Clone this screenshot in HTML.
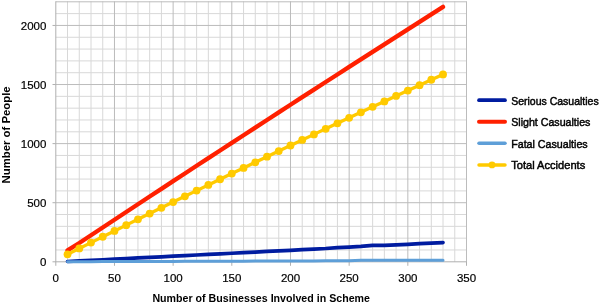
<!DOCTYPE html>
<html><head><meta charset="utf-8"><style>html,body{margin:0;padding:0;background:#fff;width:600px;height:303px;overflow:hidden}svg{display:block;filter:blur(0.35px)}</style></head>
<body>
<svg width="600" height="303" viewBox="0 0 600 303">
<rect width="600" height="303" fill="#fff"/>
<path d="M67.53,1.30V261.80 M79.27,1.30V261.80 M91.00,1.30V261.80 M102.74,1.30V261.80 M126.21,1.30V261.80 M137.94,1.30V261.80 M149.67,1.30V261.80 M161.41,1.30V261.80 M184.88,1.30V261.80 M196.61,1.30V261.80 M208.35,1.30V261.80 M220.08,1.30V261.80 M243.55,1.30V261.80 M255.28,1.30V261.80 M267.02,1.30V261.80 M278.75,1.30V261.80 M302.22,1.30V261.80 M313.95,1.30V261.80 M325.69,1.30V261.80 M337.42,1.30V261.80 M360.89,1.30V261.80 M372.63,1.30V261.80 M384.36,1.30V261.80 M396.09,1.30V261.80 M419.56,1.30V261.80 M431.30,1.30V261.80 M443.03,1.30V261.80 M454.77,1.30V261.80 M55.80,249.98H466.50 M55.80,238.16H466.50 M55.80,226.35H466.50 M55.80,214.53H466.50 M55.80,190.89H466.50 M55.80,179.07H466.50 M55.80,167.25H466.50 M55.80,155.44H466.50 M55.80,131.80H466.50 M55.80,119.98H466.50 M55.80,108.16H466.50 M55.80,96.35H466.50 M55.80,72.71H466.50 M55.80,60.89H466.50 M55.80,49.07H466.50 M55.80,37.25H466.50 M55.80,13.62H466.50" stroke="#d8d8d8" stroke-width="1" fill="none"/>
<path d="M114.47,1.30V261.80 M173.14,1.30V261.80 M231.81,1.30V261.80 M290.49,1.30V261.80 M349.16,1.30V261.80 M407.83,1.30V261.80 M466.50,1.30V261.80 M55.80,202.71H466.50 M55.80,143.62H466.50 M55.80,84.53H466.50 M55.80,25.44H466.50 M55.80,1.80H466.50" stroke="#bcbcbc" stroke-width="1" fill="none"/>
<path d="M55.80,1.30V261.80 M55.30,261.80H467.00 M52.50,261.80H55.80 M52.50,202.71H55.80 M52.50,143.62H55.80 M52.50,84.53H55.80 M52.50,25.44H55.80 M55.80,261.80V265.80 M114.47,261.80V265.80 M173.14,261.80V265.80 M231.81,261.80V265.80 M290.49,261.80V265.80 M349.16,261.80V265.80 M407.83,261.80V265.80 M466.50,261.80V265.80" stroke="#b0b0b0" stroke-width="1" fill="none"/>
<g font-family="Liberation Sans, sans-serif" font-size="11.5" fill="#000" stroke="#000" stroke-width="0.2">
<text x="46.4" y="265.90" text-anchor="end">0</text>
<text x="46.4" y="206.81" text-anchor="end">500</text>
<text x="46.4" y="147.72" text-anchor="end">1000</text>
<text x="46.4" y="88.63" text-anchor="end">1500</text>
<text x="46.4" y="29.54" text-anchor="end">2000</text>
<text x="55.80" y="281.6" text-anchor="middle">0</text>
<text x="114.47" y="281.6" text-anchor="middle">50</text>
<text x="173.14" y="281.6" text-anchor="middle">100</text>
<text x="231.81" y="281.6" text-anchor="middle">150</text>
<text x="290.49" y="281.6" text-anchor="middle">200</text>
<text x="349.16" y="281.6" text-anchor="middle">250</text>
<text x="407.83" y="281.6" text-anchor="middle">300</text>
<text x="466.50" y="281.6" text-anchor="middle">350</text>
</g>
<text x="261.2" y="301.6" text-anchor="middle" font-family="Liberation Sans, sans-serif" font-size="11" font-weight="bold" textLength="217.5" lengthAdjust="spacingAndGlyphs">Number of Businesses Involved in Scheme</text>
<text transform="translate(10.3,134.9) rotate(-90)" x="0" y="0" text-anchor="middle" font-family="Liberation Sans, sans-serif" font-size="11" font-weight="bold" textLength="97" lengthAdjust="spacingAndGlyphs">Number of People</text>
<path d="M67.53,261.50 L79.27,260.91 L91.00,260.32 L102.74,259.73 L114.47,259.14 L126.21,258.55 L137.94,257.96 L149.67,257.37 L161.41,256.78 L173.14,256.19 L184.88,255.60 L196.61,255.00 L208.35,254.41 L220.08,253.82 L231.81,253.23 L243.55,252.64 L255.28,252.05 L267.02,251.46 L278.75,250.87 L290.49,250.28 L302.22,249.69 L313.95,249.10 L325.69,248.50 L337.42,247.62 L349.16,247.03 L360.89,246.32 L372.63,245.31 L384.36,245.37 L396.09,244.90 L407.83,244.31 L419.56,243.72 L431.30,243.13 L443.03,242.54" stroke="#001ca0" stroke-width="3.7" fill="none" stroke-linecap="round" stroke-linejoin="round"/>
<path d="M67.53,250.34 L79.27,243.01 L91.00,235.24 L102.74,227.49 L114.47,219.75 L126.21,212.01 L137.94,204.29 L149.67,196.57 L161.41,188.87 L173.14,181.17 L184.88,173.49 L196.61,165.81 L208.35,158.15 L220.08,150.49 L231.81,142.85 L243.55,135.21 L255.28,127.58 L267.02,119.97 L278.75,112.36 L290.49,104.76 L302.22,97.17 L313.95,89.60 L325.69,82.03 L337.42,74.47 L349.16,66.92 L360.89,59.38 L372.63,51.85 L384.36,44.33 L396.09,36.82 L407.83,29.32 L419.56,21.83 L431.30,14.35 L443.03,6.88" stroke="#ff2000" stroke-width="4.3" fill="none" stroke-linecap="round" stroke-linejoin="round"/>
<path d="M67.53,261.74 L79.27,261.70 L91.00,261.66 L102.74,261.62 L114.47,261.58 L126.21,261.54 L137.94,261.50 L149.67,261.46 L161.41,261.42 L173.14,261.38 L184.88,261.34 L196.61,261.30 L208.35,261.26 L220.08,261.22 L231.81,261.18 L243.55,261.14 L255.28,261.10 L267.02,261.06 L278.75,261.02 L290.49,260.98 L302.22,260.94 L313.95,260.90 L325.69,260.86 L337.42,260.82 L349.16,260.78 L360.89,260.32 L372.63,260.20 L384.36,260.20 L396.09,260.20 L407.83,260.20 L419.56,260.20 L431.30,260.20 L443.03,260.20" stroke="#5e9fd8" stroke-width="3" fill="none" stroke-linecap="round" stroke-linejoin="round"/>
<path d="M67.53,254.34 L79.27,248.47 L91.00,242.61 L102.74,236.77 L114.47,230.94 L126.21,225.14 L137.94,219.34 L149.67,213.57 L161.41,207.81 L173.14,202.06 L184.88,196.33 L196.61,190.62 L208.35,184.93 L220.08,179.25 L231.81,173.58 L243.55,167.93 L255.28,162.30 L267.02,156.69 L278.75,151.09 L290.49,145.50 L302.22,139.94 L313.95,134.38 L325.69,128.85 L337.42,123.33 L349.16,117.83 L360.89,112.34 L372.63,106.87 L384.36,101.41 L396.09,95.97 L407.83,90.55 L419.56,85.14 L431.30,79.75 L443.03,74.38" stroke="#ffca00" stroke-width="3.3" fill="none" stroke-linecap="round" stroke-linejoin="round"/>
<g fill="#ffca00"><circle cx="67.53" cy="254.34" r="3.9"/><circle cx="79.27" cy="248.47" r="3.9"/><circle cx="91.00" cy="242.61" r="3.9"/><circle cx="102.74" cy="236.77" r="3.9"/><circle cx="114.47" cy="230.94" r="3.9"/><circle cx="126.21" cy="225.14" r="3.9"/><circle cx="137.94" cy="219.34" r="3.9"/><circle cx="149.67" cy="213.57" r="3.9"/><circle cx="161.41" cy="207.81" r="3.9"/><circle cx="173.14" cy="202.06" r="3.9"/><circle cx="184.88" cy="196.33" r="3.9"/><circle cx="196.61" cy="190.62" r="3.9"/><circle cx="208.35" cy="184.93" r="3.9"/><circle cx="220.08" cy="179.25" r="3.9"/><circle cx="231.81" cy="173.58" r="3.9"/><circle cx="243.55" cy="167.93" r="3.9"/><circle cx="255.28" cy="162.30" r="3.9"/><circle cx="267.02" cy="156.69" r="3.9"/><circle cx="278.75" cy="151.09" r="3.9"/><circle cx="290.49" cy="145.50" r="3.9"/><circle cx="302.22" cy="139.94" r="3.9"/><circle cx="313.95" cy="134.38" r="3.9"/><circle cx="325.69" cy="128.85" r="3.9"/><circle cx="337.42" cy="123.33" r="3.9"/><circle cx="349.16" cy="117.83" r="3.9"/><circle cx="360.89" cy="112.34" r="3.9"/><circle cx="372.63" cy="106.87" r="3.9"/><circle cx="384.36" cy="101.41" r="3.9"/><circle cx="396.09" cy="95.97" r="3.9"/><circle cx="407.83" cy="90.55" r="3.9"/><circle cx="419.56" cy="85.14" r="3.9"/><circle cx="431.30" cy="79.75" r="3.9"/><circle cx="443.03" cy="74.38" r="3.9"/></g>
<path d="M479,100.2H505" stroke="#001ca0" stroke-width="3.7" stroke-linecap="round"/>
<text x="511.2" y="104.70" font-family="Liberation Sans, sans-serif" font-size="11" stroke="#000" stroke-width="0.45" textLength="87.5" lengthAdjust="spacingAndGlyphs">Serious Casualties</text>
<path d="M479,121.7H505" stroke="#ff2000" stroke-width="4" stroke-linecap="round"/>
<text x="511.2" y="126.20" font-family="Liberation Sans, sans-serif" font-size="11" stroke="#000" stroke-width="0.45" textLength="79.2" lengthAdjust="spacingAndGlyphs">Slight Casualties</text>
<path d="M479,143.3H505" stroke="#5e9fd8" stroke-width="3.5" stroke-linecap="round"/>
<text x="511.2" y="147.80" font-family="Liberation Sans, sans-serif" font-size="11" stroke="#000" stroke-width="0.45" textLength="76.5" lengthAdjust="spacingAndGlyphs">Fatal Casualties</text>
<path d="M479,164.9H505" stroke="#ffca00" stroke-width="3.5" stroke-linecap="round"/>
<text x="511.2" y="169.40" font-family="Liberation Sans, sans-serif" font-size="11" stroke="#000" stroke-width="0.45" textLength="74" lengthAdjust="spacingAndGlyphs">Total Accidents</text>
<circle cx="492" cy="164.9" r="3.4" fill="#ffca00"/>
</svg>
</body></html>
